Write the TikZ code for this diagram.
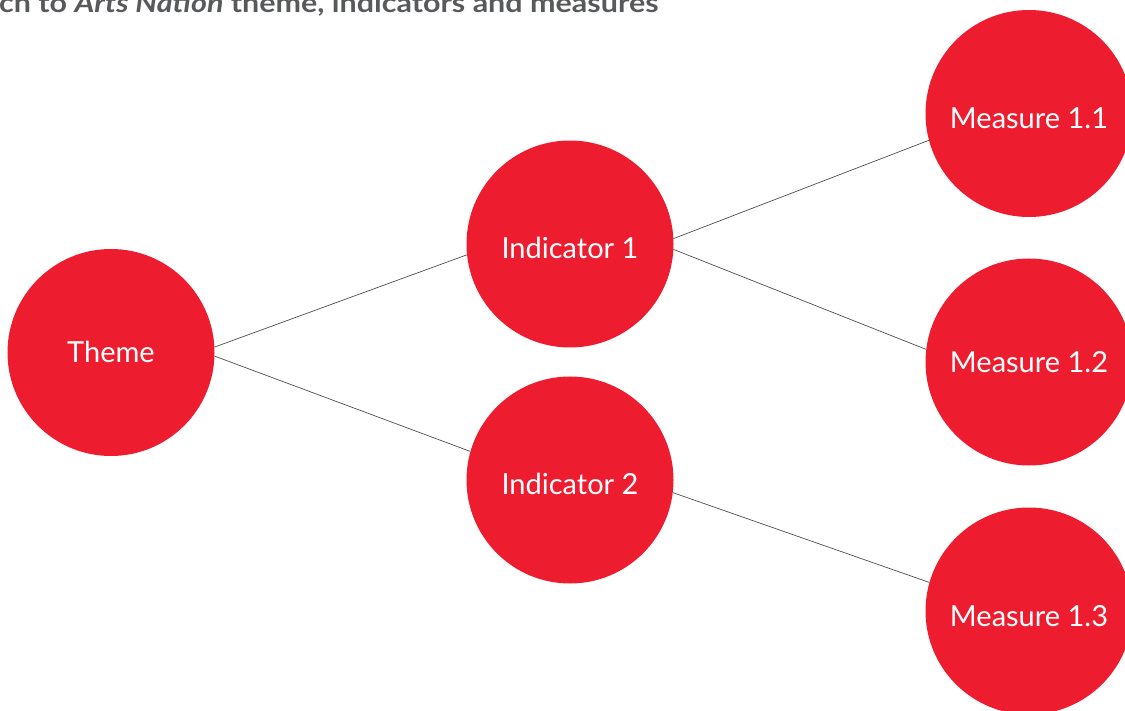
\documentclass[tikz,border=0pt]{standalone}
\usepackage{fontspec}
\setmainfont{Lato}
\newfontfamily\titlefont[FakeStretch=1.15]{Lato}
\definecolor{circred}{HTML}{ED1C2F}
\definecolor{linegray}{HTML}{4D4D4F}
\definecolor{titlegray}{HTML}{58595B}
\begin{document}
\begin{tikzpicture}[x=1pt,y=-1pt,
  bubble/.style={circle,fill=circred,minimum size=207pt,inner sep=0pt,text=white,
    font=\fontsize{29}{32}\selectfont,text height=20.8pt,text depth=0pt},
  low/.style={text height=#1},
  link/.style={draw=linegray,line width=0.7pt}]
\useasboundingbox (0,0) rectangle (1125,711);
\clip (0,0) rectangle (1125,711);
\node[anchor=base west,text=titlegray,font=\titlefont\fontsize{26.5}{30}\selectfont\bfseries,inner sep=0pt] (title) at (-1,13) {ch to \textit{Arts Nation} theme, indicators and measures};
\node[bubble] (theme) at (111,352.5) {Theme};
\node[bubble,low=28.8pt] (ind1) at (570,244) {Indicator 1};
\node[bubble,low=28.8pt] (ind2) at (570,480) {Indicator 2};
\node[bubble,low=30.8pt] (m11) at (1029,113.5) {Measure 1.1};
\node[bubble] (m12) at (1029,362) {Measure 1.2};
\node[bubble,low=30.8pt] (m13) at (1029,611) {Measure 1.3};
\draw[link] (theme.3) -- (ind1.186);
\draw[link] (theme.-2) -- (ind2.164);
\draw[link] (ind1.3) -- (m11.195);
\draw[link] (ind1.-3) -- (m12.173);
\draw[link] (ind2.-7) -- (m13.164);
\end{tikzpicture}
\end{document}
